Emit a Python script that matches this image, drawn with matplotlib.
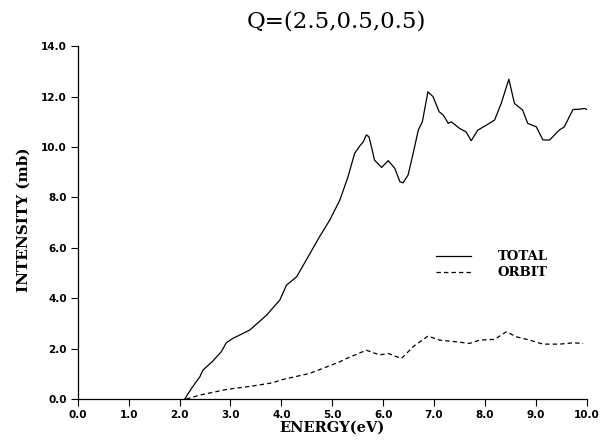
import matplotlib.pyplot as plt

# ── data ──────────────────────────────────────────────────────────────────────
total_e = [2.10, 2.24, 2.40, 2.46, 2.65, 2.82, 2.92, 3.05, 3.38, 3.71, 3.97,
           4.10, 4.30, 4.49, 4.75, 4.95, 5.15, 5.31, 5.44, 5.54, 5.61, 5.67,
           5.72, 5.77, 5.83, 5.97, 6.10, 6.23, 6.33, 6.39, 6.49, 6.59, 6.69,
           6.77, 6.88, 6.98, 7.10, 7.18, 7.28, 7.34, 7.50, 7.63, 7.73, 7.86,
           8.03, 8.19, 8.32, 8.47, 8.58, 8.74, 8.84, 9.01, 9.14, 9.27, 9.46,
           9.56, 9.73, 9.86, 9.96, 10.00]
total_i = [0.00, 0.44, 0.89, 1.15, 1.50, 1.88, 2.24, 2.41, 2.74, 3.33, 3.93,
           4.52, 4.85, 5.52, 6.44, 7.10, 7.90, 8.82, 9.75, 10.04, 10.21, 10.48,
           10.41, 10.01, 9.48, 9.19, 9.46, 9.15, 8.62, 8.58, 8.89, 9.75, 10.67,
           11.00, 12.19, 12.00, 11.40, 11.27, 10.94, 11.00, 10.74, 10.60, 10.25,
           10.67, 10.87, 11.07, 11.73, 12.69, 11.73, 11.47, 10.94, 10.80, 10.28,
           10.28, 10.67, 10.80, 11.49, 11.50, 11.53, 11.49]

orbit_e = [2.13, 2.40, 2.92, 3.44, 3.84, 3.97, 4.56, 5.15, 5.28, 5.67, 5.93,
           6.10, 6.36, 6.59, 6.88, 7.11, 7.44, 7.70, 7.90, 8.19, 8.42, 8.62,
           8.88, 9.14, 9.47, 9.73, 9.93]
orbit_i = [0.00, 0.16, 0.38, 0.52, 0.65, 0.75, 1.02, 1.48, 1.61, 1.94, 1.75,
           1.81, 1.61, 2.08, 2.50, 2.34, 2.27, 2.21, 2.34, 2.37, 2.67, 2.47,
           2.34, 2.18, 2.18, 2.23, 2.21]

x_ticks = [0, 1, 2, 3, 4, 5, 6, 7, 8, 9, 10]
y_ticks = [0, 2, 4, 6, 8, 10, 12, 14]

SERIF = ["DejaVu Serif"]
TICKFONT = ["DejaVu Sans"]

fig = plt.figure(figsize=(6.03, 4.40), dpi=100)
ax = fig.add_axes([0.129, 0.093, 0.844, 0.802])

ax.plot(total_e, total_i, color="black", lw=0.9, label="TOTAL")
ax.plot(orbit_e, orbit_i, color="black", lw=0.9, linestyle=(0, (3.5, 2.5)),
        label="ORBIT")

ax.set_xlim(0, 10)
ax.set_ylim(0, 14)
ax.set_xticks(x_ticks)
ax.set_yticks(y_ticks)
ax.set_xticklabels([f"{v:.1f}" for v in x_ticks])
ax.set_yticklabels([f"{v:.1f}" for v in y_ticks])
for lab in ax.get_xticklabels() + ax.get_yticklabels():
    lab.set_family(TICKFONT)
    lab.set_fontweight("bold")
    lab.set_fontsize(7.5)
ax.tick_params(direction="out", length=5, width=0.8, pad=3)

for side in ("top", "right"):
    ax.spines[side].set_visible(False)
for side in ("left", "bottom"):
    ax.spines[side].set_linewidth(0.9)

ax.set_xlabel("ENERGY(eV)", family=SERIF, fontweight="bold", fontsize=10.5)
ax.xaxis.set_label_coords(0.5, -0.062)
ax.set_ylabel("INTENSITY (mb)", family=SERIF, fontweight="bold", fontsize=11)
ax.yaxis.set_label_coords(-0.093, 0.507)
fig.text(0.558, 0.952, "Q=(2.5,0.5,0.5)", family=SERIF, fontsize=16.5,
         ha="center", va="center")

ax.legend(loc="upper left", bbox_to_anchor=(0.703, 0.422), frameon=False,
          borderpad=0, borderaxespad=0, handlelength=2.7, handletextpad=2.0,
          labelspacing=0.25,
          prop={"family": SERIF, "weight": "bold", "size": 9.5})

fig.savefig("out.png", dpi=100)
